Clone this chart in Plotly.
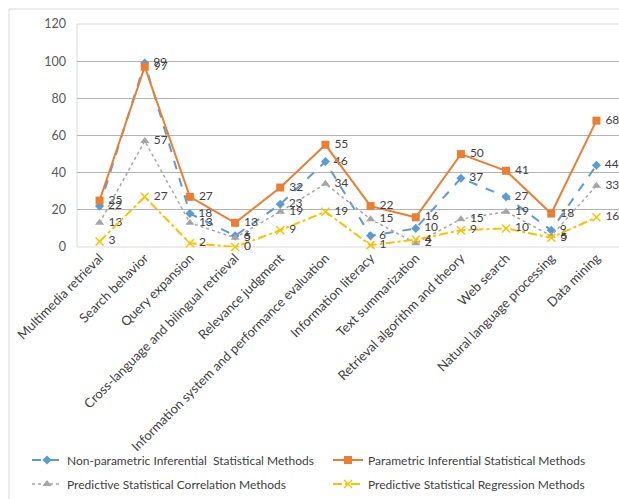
import plotly.graph_objects as go

categories = [
    "Multimedia retrieval",
    "Search behavior",
    "Query expansion",
    "Cross-language and bilingual retrieval",
    "Relevance judgment",
    "Information system and performance evaluation",
    "Information literacy",
    "Text summarization",
    "Retrieval algorithm and theory",
    "Web search",
    "Natural language processing",
    "Data mining",
]

non_parametric = [22, 99, 18, 6, 23, 46, 6, 10, 37, 27, 9, 44]
parametric = [25, 97, 27, 13, 32, 55, 22, 16, 50, 41, 18, 68]
correlation = [13, 57, 13, 5, 19, 34, 15, 2, 15, 19, 6, 33]
regression = [3, 27, 2, 0, 9, 19, 1, 4, 9, 10, 5, 16]

y_ticks = [0, 20, 40, 60, 80, 100, 120]

FONT = "Lato"
TEXT_COLOR = "#404040"

W, H = 619, 499
ML, MR, MT, MB = 77, 0, 24, 252
PW, PH = W - ML - MR, H - MT - MB


def px_x(x):
    return (x - ML) / PW


def px_y(y):
    return (H - MB - y) / PH


# name, values, colour, dash, line width, marker, marker size,
# legend id, legend left (px), legend row centre (px)
series = [
    ("Non-parametric Inferential  Statistical Methods", non_parametric, "#5B9BD5",
     "dash", 2, "diamond", 7, "legend", 27, 460),
    ("Parametric Inferential Statistical Methods", parametric, "#ED7D31",
     "solid", 2, "square", 8, "legend2", 328, 460),
    ("Predictive Statistical Correlation Methods", correlation, "#A5A5A5",
     "dot", 1.5, "triangle-up", 8, "legend3", 27, 484),
    ("Predictive Statistical Regression Methods", regression, "#FFC000",
     "dashdot", 2, "x-thin", 8, "legend4", 328, 484),
]

fig = go.Figure()
legends = {}
for name, vals, color, dash, lw, sym, ms, leg, lx, ly in series:
    marker = dict(symbol=sym, size=ms, color=color)
    if sym == "x-thin":
        marker["line"] = dict(color=color, width=1.5)
    fig.add_trace(go.Scatter(
        x=categories, y=vals, name=name, mode="lines+markers+text",
        line=dict(color=color, width=lw, dash=dash),
        marker=marker,
        # thin leading spaces keep the value label clear of its marker
        text=["\u2009\u2009" + str(v) for v in vals], textposition="middle right",
        textfont=dict(family=FONT, size=12, color=TEXT_COLOR),
        legend=leg, cliponaxis=False,
    ))
    legends[leg] = dict(
        x=px_x(lx), y=px_y(ly),
        orientation="h", xanchor="left", yanchor="middle",
        font=dict(family=FONT, size=12, color=TEXT_COLOR),
        bgcolor="rgba(0,0,0,0)", itemclick=False,
    )

fig.update_layout(
    width=W, height=H,
    margin=dict(l=ML, r=MR, t=MT, b=MB),
    paper_bgcolor="white", plot_bgcolor="white",
    showlegend=True,
    **legends,
    xaxis=dict(
        type="category", categoryorder="array", categoryarray=categories,
        range=[-0.5, len(categories) - 0.5],
        tickangle=-45, showgrid=False, zeroline=False, showline=False,
        ticks="", tickfont=dict(family=FONT, size=13, color=TEXT_COLOR),
    ),
    yaxis=dict(
        range=[0, 120], tickvals=y_ticks, showgrid=True,
        gridcolor="#B3B3B3", gridwidth=1, zeroline=False, showline=False,
        ticks="", ticklabelstandoff=10,
        tickfont=dict(family=FONT, size=12.5, color="#595959"),
    ),
    font=dict(family=FONT),
    shapes=[
        # outer chart frame
        dict(type="rect", xref="paper", yref="paper",
             x0=px_x(9), x1=px_x(W + 10), y0=px_y(H + 10), y1=px_y(9),
             line=dict(color="#D9D9D9", width=1), layer="below"),
        # plot area outline
        dict(type="rect", xref="paper", yref="paper",
             x0=0, x1=px_x(W + 10), y0=0, y1=1,
             line=dict(color="#D9D9D9", width=1), layer="between"),
    ],
)

fig.write_html("out.html")
